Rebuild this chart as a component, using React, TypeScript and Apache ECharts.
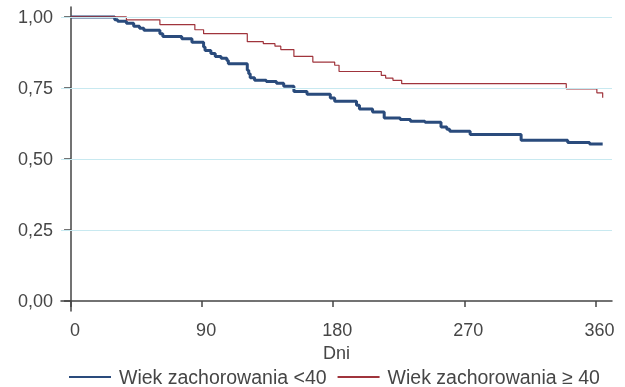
import { useEffect, useRef } from 'react';
import * as echarts from 'echarts';

const xTicks = [0, 90, 180, 270, 360];
const yTicks = [0, 0.25, 0.5, 0.75, 1];
const gridValues = [0.25, 0.5, 0.75, 1];
const seriesNames = ['Wiek zachorowania <40', 'Wiek zachorowania ≥ 40'];

const youngDays = [0, 30, 32, 38, 43, 47, 50, 61, 63, 76, 83, 91, 92, 96, 99, 103, 107, 108, 121, 122, 123, 126, 134, 141, 146, 153, 162, 178, 181, 196, 198, 207, 215, 226, 233, 243, 254, 258, 260, 274, 309, 341, 356, 365];
const youngSurv = [1.0, 0.99, 0.985, 0.978, 0.967, 0.96, 0.953, 0.941, 0.931, 0.923, 0.911, 0.894, 0.882, 0.871, 0.861, 0.855, 0.847, 0.835, 0.812, 0.8, 0.786, 0.777, 0.773, 0.767, 0.756, 0.738, 0.728, 0.715, 0.703, 0.689, 0.676, 0.665, 0.644, 0.639, 0.633, 0.629, 0.613, 0.605, 0.598, 0.586, 0.566, 0.558, 0.553, 0.553];

const olderDays = [0, 38, 61, 85, 91, 121, 132, 140, 144, 153, 166, 181, 184, 213, 216, 221, 227, 340, 361, 365];
const olderSurv = [1.0, 0.99, 0.973, 0.955, 0.941, 0.913, 0.906, 0.897, 0.885, 0.861, 0.841, 0.83, 0.808, 0.794, 0.785, 0.777, 0.765, 0.747, 0.733, 0.716];

const FONT = '"Liberation Sans", Arial, sans-serif';
const TXT = '#464646';

export default function App() {
  const ref = useRef<HTMLDivElement>(null);
  useEffect(() => {
    const chart = echarts.init(ref.current!, null, { renderer: 'svg' });
    const young = youngDays.map((d, i) => [d, youngSurv[i]]);
    const older = olderDays.map((d, i) => [d, olderSurv[i]]);
    chart.setOption({
      animation: false,
      textStyle: { fontFamily: FONT },
      grid: { left: 61, right: 13, top: 7, bottom: 76, containLabel: false },
      xAxis: {
        type: 'value',
        min: -6.9,
        max: 371.4,
        name: 'Dni',
        nameLocation: 'middle',
        nameGap: 31,
        nameTextStyle: { fontSize: 18, color: TXT, fontFamily: FONT },
        axisLine: { show: true, lineStyle: { color: '#444', width: 1.5 } },
        axisTick: { show: true, length: 6, customValues: xTicks, lineStyle: { color: '#444', width: 1.5 } },
        axisLabel: { customValues: xTicks, fontSize: 18, color: TXT, margin: 10, padding: [0, 0, 0, 8], fontFamily: FONT },
        splitLine: { show: false },
      },
      yAxis: {
        type: 'value',
        min: -0.035,
        max: 1.035,
        axisLine: { show: true, lineStyle: { color: '#444', width: 1.5 } },
        axisTick: { show: true, length: 7, customValues: yTicks, lineStyle: { color: '#444', width: 1.5 } },
        axisLabel: {
          customValues: yTicks,
          fontSize: 18,
          color: TXT,
          margin: 8,
          fontFamily: FONT,
          formatter: (v: number) => v.toFixed(2).replace('.', ','),
        },
        splitLine: { show: false },
      },
      legend: {
        data: seriesNames,
        left: 68,
        top: 367,
        padding: 0,
        itemWidth: 42,
        itemHeight: 18,
        itemGap: 10,
        itemStyle: { opacity: 0 },
        textStyle: { fontSize: 19.5, lineHeight: 18, color: TXT, fontFamily: FONT, padding: [0, 0, 0, 3] },
      },
      series: [
        {
          type: 'line',
          name: 'grid',
          data: [],
          z: 1,
          silent: true,
          markLine: {
            silent: true,
            symbol: 'none',
            label: { show: false },
            lineStyle: { color: '#c8e9f0', width: 1.2, type: 'solid' },
            data: gridValues.map((v) => ({ yAxis: v })),
          },
        },
        {
          type: 'line',
          name: seriesNames[0],
          data: young,
          step: 'end',
          symbol: 'none',
          showSymbol: false,
          z: 3,
          lineStyle: { color: '#2a4b7c', width: 3 },
          itemStyle: { color: '#2a4b7c' },
        },
        {
          type: 'line',
          name: seriesNames[1],
          data: older,
          step: 'end',
          symbol: 'none',
          showSymbol: false,
          z: 4,
          lineStyle: { color: '#a0343c', width: 1.2 },
          itemStyle: { color: '#a0343c' },
        },
      ],
    });
    return () => chart.dispose();
  }, []);
  return <div ref={ref} style={{ position: 'fixed', left: 0, top: 0, width: 625, height: 387 }} />;
}
